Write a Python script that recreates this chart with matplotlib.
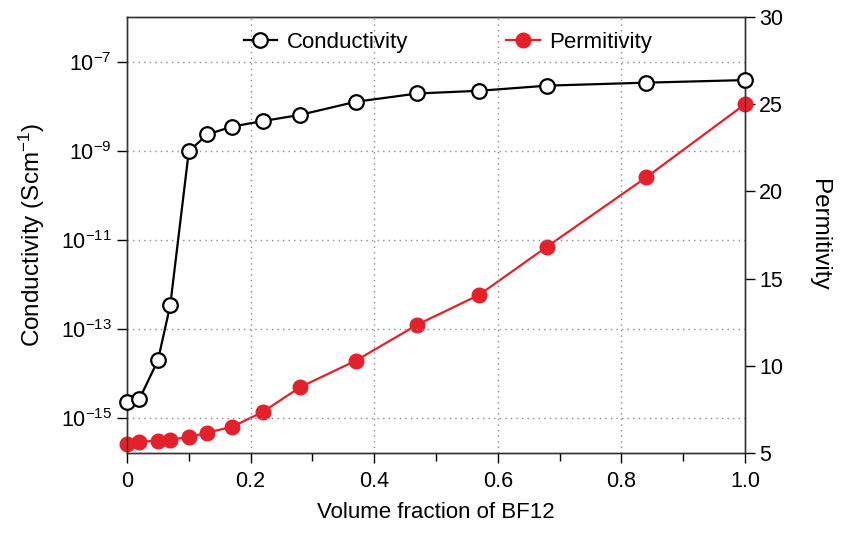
import numpy as np
import matplotlib
matplotlib.use("Agg")
import matplotlib.pyplot as plt
from matplotlib.ticker import FixedLocator, FuncFormatter, MultipleLocator
from matplotlib.lines import Line2D

plt.rcParams['font.family'] = ['Liberation Sans', 'DejaVu Sans']
plt.rcParams['mathtext.fontset'] = 'custom'
plt.rcParams['mathtext.rm'] = 'Liberation Sans'
plt.rcParams['mathtext.it'] = 'Liberation Sans'
plt.rcParams['mathtext.default'] = 'regular'

# ---- data ----
volume_fraction = [0.0, 0.02, 0.05, 0.07, 0.10, 0.13, 0.17, 0.22, 0.28, 0.37, 0.47, 0.57, 0.68, 0.84, 1.0]
conductivity = [2.3e-15, 2.7e-15, 2.0e-14, 3.5e-13, 1.0e-9, 2.4e-9, 3.6e-9, 4.8e-9, 6.6e-9,
                1.3e-8, 2.0e-8, 2.3e-8, 3.0e-8, 3.5e-8, 4.0e-8]
permitivity = [5.49, 5.64, 5.71, 5.77, 5.91, 6.17, 6.50, 7.36, 8.77, 10.29, 12.36, 14.07, 16.84, 20.8, 25.0]
cond_ticks = [1e-15, 1e-13, 1e-11, 1e-9, 1e-7]
perm_ticks = [5, 10, 15, 20, 25, 30]
x_major = [0, 0.2, 0.4, 0.6, 0.8, 1.0]
x_labels = ['0', '0.2', '0.4', '0.6', '0.8', '1.0']

red = '#e3212b'

fig = plt.figure(figsize=(8.43, 5.43), dpi=100)
ax = fig.add_axes([127/843, 1 - 453/543, (745-127)/843, (453-17)/543])
ax2 = ax.twinx()

ax.set_yscale('log')
ax.set_xlim(0, 1.0)
ax.set_ylim(10**-15.78, 10**-5.98)
ax2.set_ylim(5, 30)

ax.yaxis.set_major_locator(FixedLocator(cond_ticks))
ax.yaxis.set_minor_locator(FixedLocator([]))
ax.xaxis.set_major_locator(FixedLocator(x_major))
ax.xaxis.set_minor_locator(MultipleLocator(0.1))
ax.xaxis.set_major_formatter(FuncFormatter(lambda v, p: x_labels[x_major.index(round(v, 1))] if round(v, 1) in x_major else ''))
ax.yaxis.set_major_formatter(FuncFormatter(lambda v, p: r'$10^{%d}$' % int(round(np.log10(v)))))
for gx in x_major[1:-1]:
    ax.axvline(gx, color='#8a8a8a', lw=1.0, ls=(0, (1, 3)), zorder=0)
for gy in cond_ticks:
    ax.axhline(gy, color='#8a8a8a', lw=1.0, ls=(0, (1, 3)), zorder=0)

ax.plot(volume_fraction, conductivity, '-o', color='black', lw=1.6, ms=10.5,
        mfc='white', mec='black', mew=1.6, clip_on=False, zorder=5)
ax2.plot(volume_fraction, permitivity, '-o', color=red, lw=1.6, ms=10.5,
         mfc=red, mec=red, clip_on=False, zorder=4)

ax.tick_params(axis='both', which='both', direction='out', length=7, width=1.0,
               labelsize=15.5, colors='black')
ax.tick_params(axis='x', which='minor', length=6)
ax.tick_params(axis='x', pad=6)
ax.tick_params(axis='y', pad=4)
ax2.yaxis.set_major_locator(FixedLocator(perm_ticks))
ax2.tick_params(axis='y', direction='out', length=7, width=1.0, labelsize=15.5, pad=3)

for a in (ax, ax2):
    for s in a.spines.values():
        s.set_linewidth(1.0)
        s.set_color('#333333')

ax.set_xlabel('Volume fraction of BF12', fontsize=16, labelpad=7)
ax.set_ylabel('Conductivity (Scm$^{-1}$)', fontsize=17.5, labelpad=10)
ax2.set_ylabel('Permitivity', fontsize=17.5, rotation=270, labelpad=34)

ax.set_zorder(2)
ax2.set_zorder(1)
ax.patch.set_visible(False)
ax2.patch.set_visible(True)
ax2.patch.set_facecolor('white')

h1 = Line2D([], [], color='black', lw=1.6, marker='o', ms=10.5, mfc='white', mec='black', mew=1.6)
h2 = Line2D([], [], color=red, lw=1.6, marker='o', ms=10.5, mfc=red, mec=red)
ax.legend([h1, h2], ['Conductivity', 'Permitivity'], loc='upper left',
          bbox_to_anchor=(0.189, 0.966), ncol=2, frameon=False, fontsize=16,
          handlelength=1.5, handletextpad=0.45, columnspacing=4.4,
          borderpad=0, borderaxespad=0)

fig.savefig('out.png', dpi=100)
